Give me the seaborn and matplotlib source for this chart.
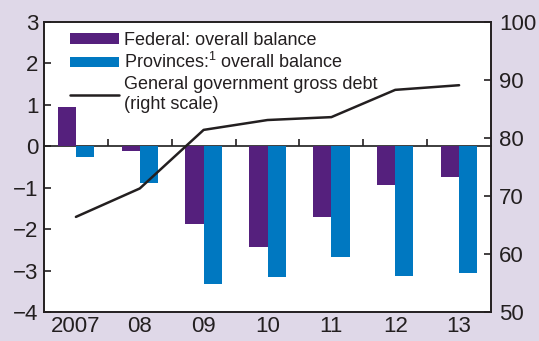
import matplotlib
matplotlib.use("Agg")
import matplotlib.pyplot as plt
import seaborn as sns
import numpy as np
import pandas as pd
from matplotlib.patches import Patch
from matplotlib.lines import Line2D

years = ["2007", "08", "09", "10", "11", "12", "13"]
federal = [0.94, -0.11, -1.88, -2.42, -1.70, -0.94, -0.73]
provinces = [-0.27, -0.89, -3.33, -3.16, -2.68, -3.12, -3.05]
debt = [66.4, 71.3, 81.4, 83.1, 83.6, 88.3, 89.1]

lab_fed = "Federal: overall balance"
lab_prov = "Provinces:$^{1}$ overall balance"
lab_debt = "General government gross debt\n(right scale)"

c_fed = "#55207D"
c_prov = "#0078C1"
bg = "#DFD8E8"

sns.set_theme(style="white")
plt.rcParams["font.family"] = ["Liberation Sans", "DejaVu Sans"]
plt.rcParams["mathtext.fontset"] = "custom"
plt.rcParams["mathtext.rm"] = "Liberation Sans"

df = pd.DataFrame({
    "year": years * 2,
    "value": federal + provinces,
    "series": [lab_fed] * len(years) + [lab_prov] * len(years),
})

fig = plt.figure(figsize=(5.39, 3.41), dpi=100, facecolor=bg)
ax = fig.add_axes([0.0816, 0.085, 0.911 - 0.0816, 0.9355 - 0.085])
ax.set_facecolor("white")

sns.barplot(data=df, x="year", y="value", hue="series", order=years,
            palette=[c_fed, c_prov], width=0.57, ax=ax, legend=False,
            saturation=1, linewidth=0)
ax.set_xlim(-0.5, len(years) - 0.5)
ax.set_ylim(-4, 3)
ax.set_yticks(range(-4, 4))
ax.set_yticklabels([str(v).replace("-", "\u2212") for v in range(-4, 4)])
ax.set_xlabel("")
ax.set_ylabel("")

# zero line with category separator ticks
sec = ax.secondary_xaxis(4 / 7)
sec.set_xticks(np.arange(len(years) - 1) + 0.5)
sec.set_xticklabels([])
sec.tick_params(axis="x", direction="out", length=5, width=1.2, color="#231F20")
sec.spines["bottom"].set_color("#231F20")
sec.spines["bottom"].set_linewidth(1.2)

ax2 = ax.twinx()
sns.lineplot(x=np.arange(len(years)), y=debt, ax=ax2, color="#231F20",
             linewidth=1.8)
ax2.set_ylim(50, 100)
ax2.set_yticks(range(50, 101, 10))
ax2.set_ylabel("")

for a in (ax, ax2):
    for s in a.spines.values():
        s.set_color("#231F20")
        s.set_linewidth(1.2)
    a.tick_params(axis="y", direction="in", length=5, width=1.2,
                  color="#231F20", labelsize=16, labelcolor="#231F20", pad=4)
ax.tick_params(axis="x", length=0, labelsize=16, labelcolor="#231F20", pad=3)
ax2.tick_params(axis="y", pad=6)

handles = [Patch(facecolor=c_fed, edgecolor="none"),
           Patch(facecolor=c_prov, edgecolor="none"),
           Line2D([], [], color="#231F20", linewidth=1.8)]
leg = ax2.legend(handles, [lab_fed, lab_prov, lab_debt], loc="upper left",
                 bbox_to_anchor=(0.03, 1.01), frameon=False, fontsize=13,
                 handlelength=2.7, handleheight=0.55, handletextpad=0.3,
                 labelspacing=0.2, borderaxespad=0.3)
for t in leg.get_texts():
    t.set_color("#231F20")

fig.savefig("out.png", dpi=100, facecolor=bg)
